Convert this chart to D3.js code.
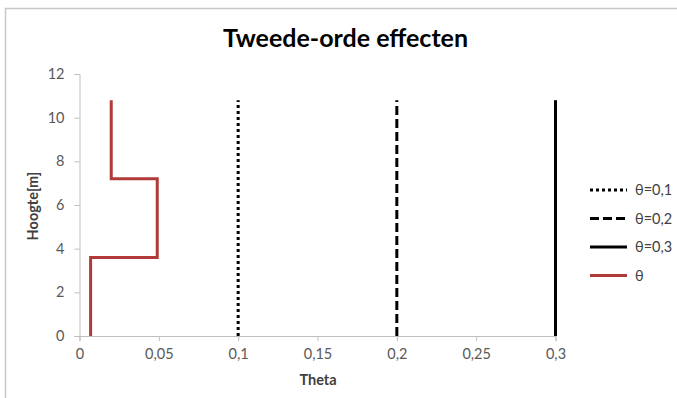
<!DOCTYPE html>
<html><head><meta charset="utf-8">
<script src="https://cdn.jsdelivr.net/npm/d3@7"></script>
<style>body{margin:0;background:#fff;}svg{display:block;font-family:Lato,"Open Sans",sans-serif;}</style>
</head><body>
<svg id="c" width="677" height="398"></svg>
<script>
const title = "Tweede-orde effecten";
const xLabel = "Theta";
const yLabel = "Hoogte[m]";
const xTicks = [0, 0.05, 0.1, 0.15, 0.2, 0.25, 0.3];
const yTicks = [0, 2, 4, 6, 8, 10, 12];
const refValues = [0.1, 0.2, 0.3];
const refNames = ["θ=0,1", "θ=0,2", "θ=0,3"];
const refHeights = [0, 10.8];
const thetaX = [0.007, 0.007, 0.049, 0.049, 0.02, 0.02];
const thetaY = [0, 3.6, 3.6, 7.2, 7.2, 10.8];
const thetaName = "θ";

const svg = d3.select("#c");
svg.append("path").attr("d","M5.5,400 V8.5 H680").attr("fill","none").attr("stroke","#c8c8c8").attr("stroke-width",1.5);

const x = d3.scaleLinear().domain([0,0.3]).range([79.5,555.5]);
const y = d3.scaleLinear().domain([0,12]).range([336,74]);
const fmt = d => String(d).replace(".", ",");

svg.append("text").attr("x",345.5).attr("y",46.5).attr("text-anchor","middle")
  .attr("font-size",25).attr("font-weight","bold").attr("fill","#000").text(title);

const gx = svg.append("g").attr("transform","translate(0,336)")
  .call(d3.axisBottom(x).tickValues(xTicks).tickFormat(fmt).tickSize(5).tickPadding(8));
const gy = svg.append("g").attr("transform","translate(79.5,0)")
  .call(d3.axisLeft(y).tickValues(yTicks).tickSize(5).tickPadding(10));
[gx,gy].forEach(g=>{
  g.select(".domain").attr("stroke","#bfbfbf");
  g.selectAll(".tick line").attr("stroke","#bfbfbf");
  g.selectAll(".tick text").attr("fill","#595959").attr("font-size",14.5).attr("font-family","Lato,sans-serif");
});

svg.append("text").attr("x",318).attr("y",385).attr("text-anchor","middle")
  .attr("font-size",14.5).attr("font-weight","bold").attr("fill","#404040").text(xLabel);
svg.append("text").attr("transform","translate(38,206) rotate(-90)").attr("text-anchor","middle")
  .attr("font-size",14.5).attr("font-weight","bold").attr("fill","#404040").text(yLabel);

const dashes = ["3,3","9,4",null];
const line = d3.line().x(d=>x(d[0])).y(d=>y(d[1]));
refValues.forEach((v,i)=>{
  svg.append("path").attr("d", line(refHeights.map(h=>[v,h])))
    .attr("fill","none").attr("stroke","#000").attr("stroke-width",3)
    .attr("stroke-dasharray",dashes[i]);
});
svg.append("path").attr("d", line(thetaX.map((v,i)=>[v,thetaY[i]])))
  .attr("fill","none").attr("stroke","#b03a38").attr("stroke-width",3);

const legItems = refNames.map((n,i)=>({n, c:"#000", d:dashes[i]})).concat([{n:thetaName,c:"#b03a38",d:null}]);
const legY = d3.scalePoint().domain(d3.range(legItems.length)).range([190,275.5]);
legItems.forEach((it,i)=>{
  const yy = legY(i);
  svg.append("line").attr("x1",590).attr("x2",627).attr("y1",yy).attr("y2",yy)
    .attr("stroke",it.c).attr("stroke-width",3).attr("stroke-dasharray",it.d);
  svg.append("text").attr("x",635).attr("y",yy+5).attr("font-size",14.5)
    .attr("fill","#404040").text(it.n);
});
</script>
</body></html>
